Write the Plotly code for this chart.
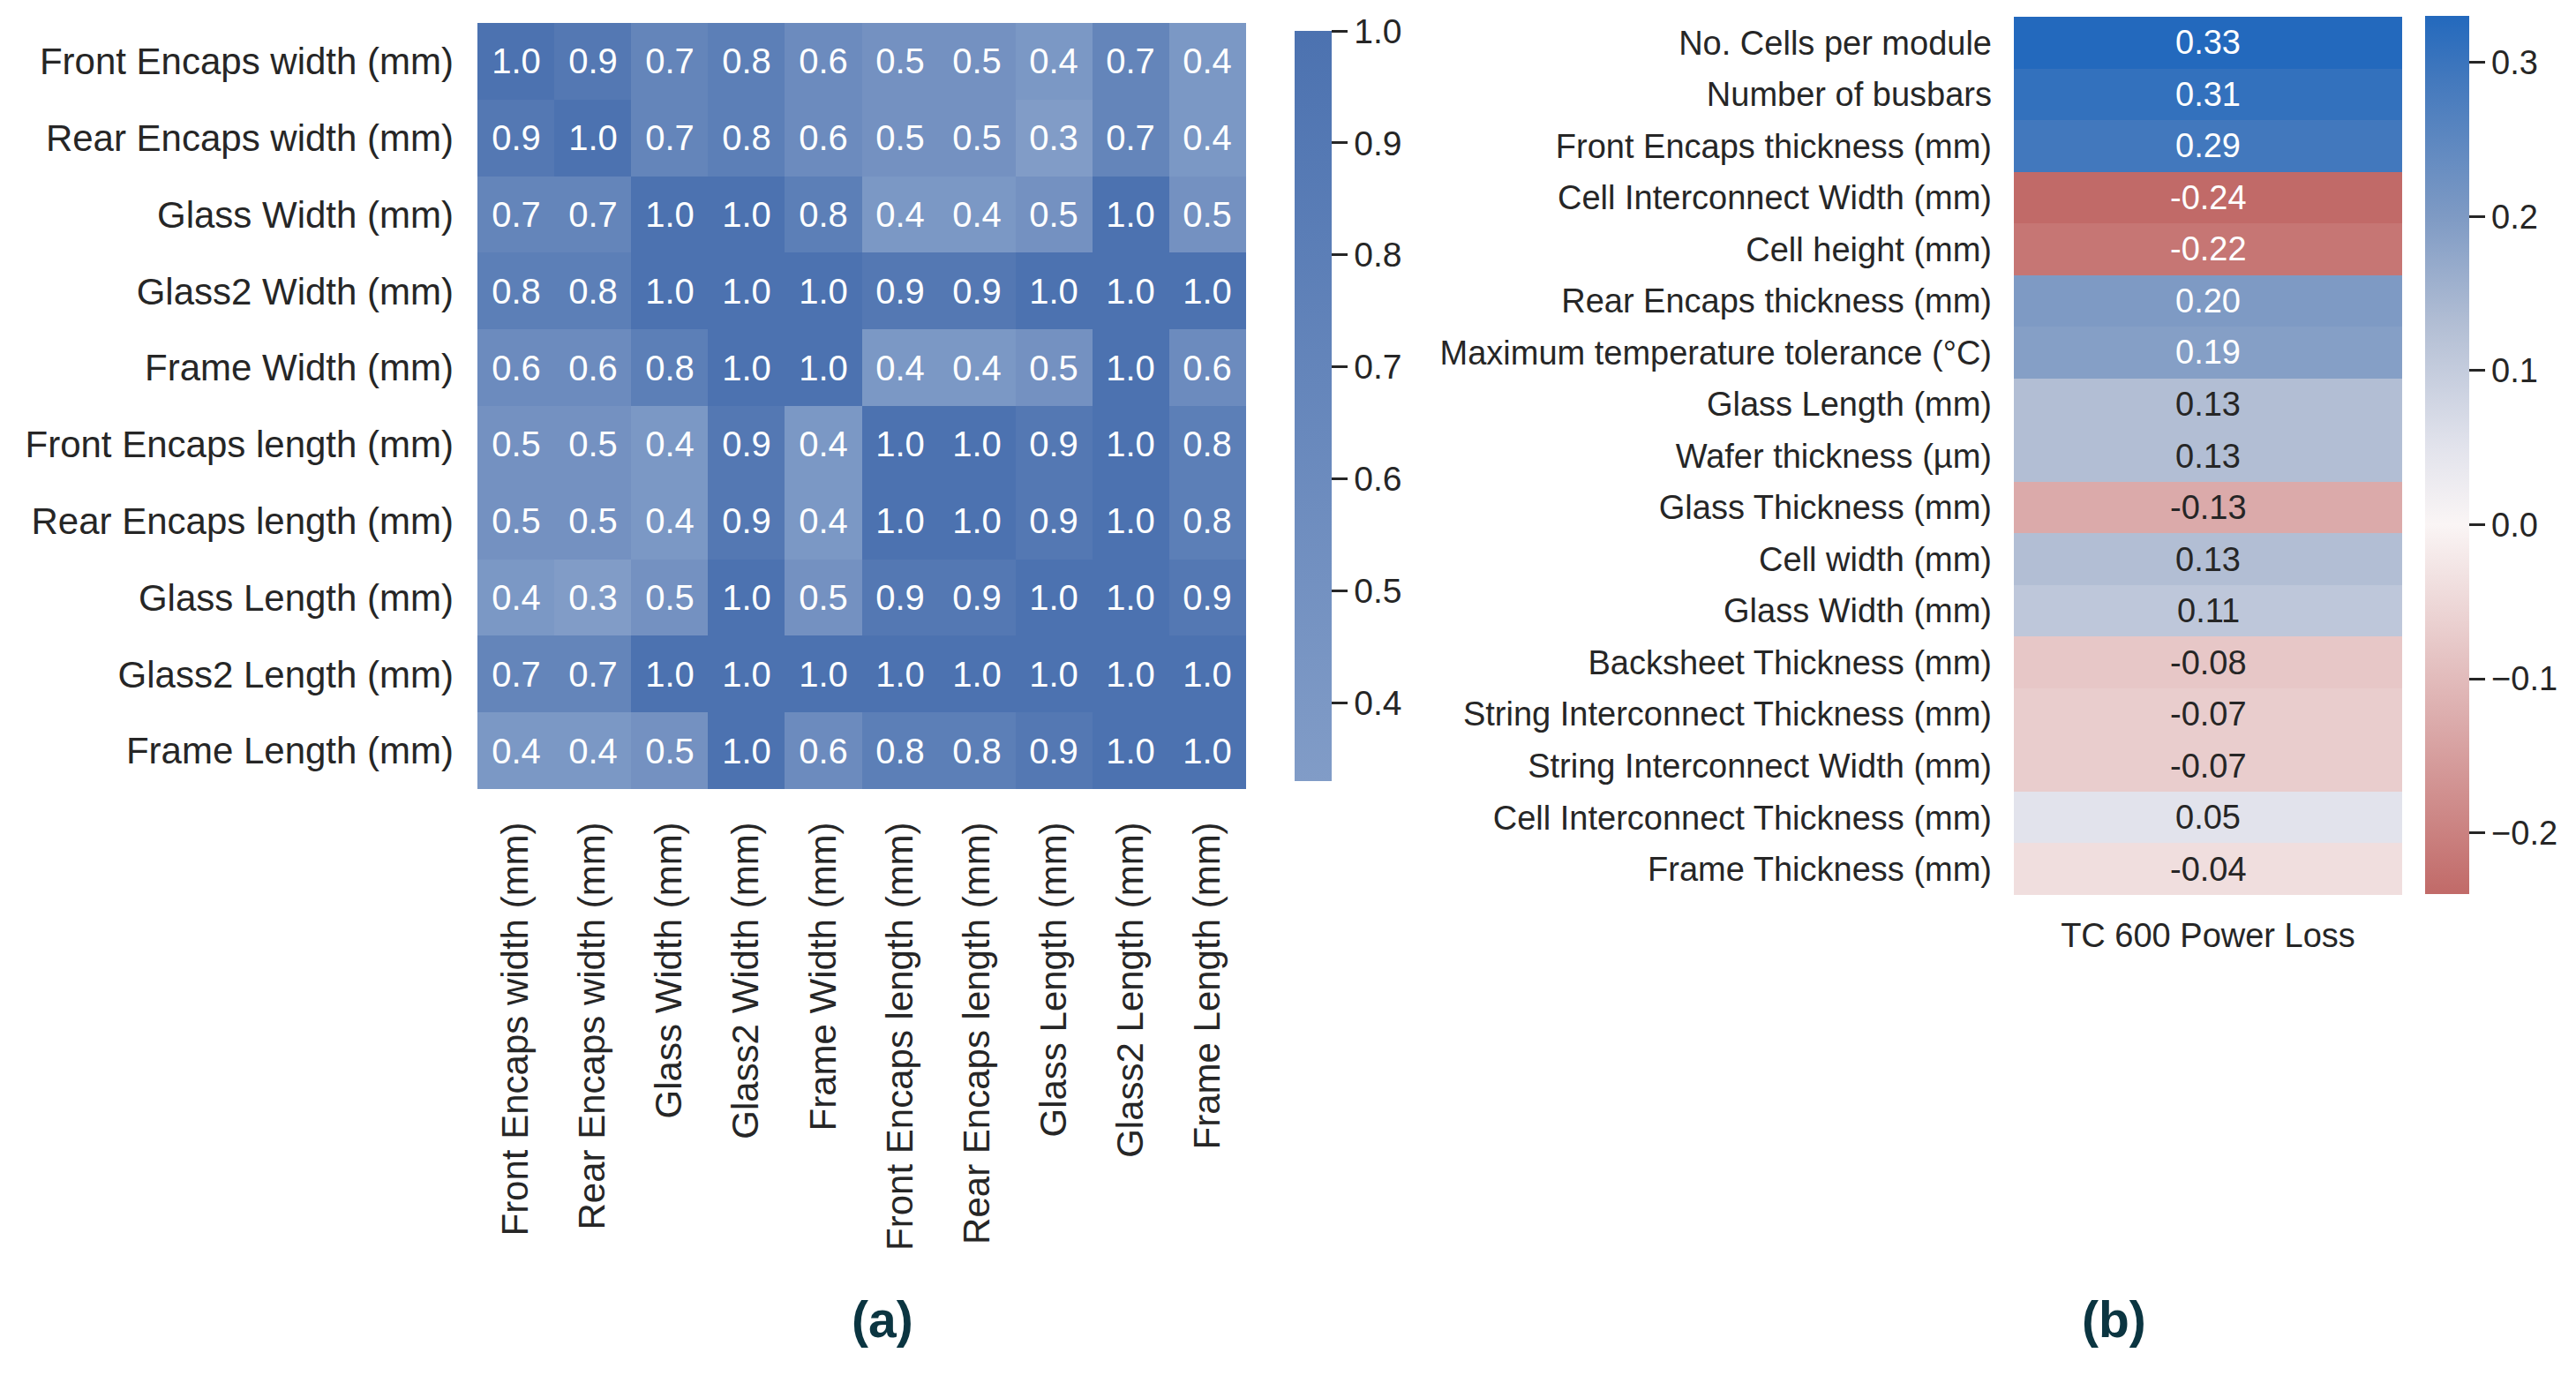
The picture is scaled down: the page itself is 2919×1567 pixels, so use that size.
import plotly.graph_objects as go

# correlation matrix between the dimension parameters (panel a)
dims = [
    "Front Encaps width (mm)",
    "Rear Encaps width (mm)",
    "Glass Width (mm)",
    "Glass2 Width (mm)",
    "Frame Width (mm)",
    "Front Encaps length (mm)",
    "Rear Encaps length (mm)",
    "Glass Length (mm)",
    "Glass2 Length (mm)",
    "Frame Length (mm)",
]
corr = [
    [1.0, 0.9, 0.7, 0.8, 0.6, 0.5, 0.5, 0.4, 0.7, 0.4],
    [0.9, 1.0, 0.7, 0.8, 0.6, 0.5, 0.5, 0.3, 0.7, 0.4],
    [0.7, 0.7, 1.0, 1.0, 0.8, 0.4, 0.4, 0.5, 1.0, 0.5],
    [0.8, 0.8, 1.0, 1.0, 1.0, 0.9, 0.9, 1.0, 1.0, 1.0],
    [0.6, 0.6, 0.8, 1.0, 1.0, 0.4, 0.4, 0.5, 1.0, 0.6],
    [0.5, 0.5, 0.4, 0.9, 0.4, 1.0, 1.0, 0.9, 1.0, 0.8],
    [0.5, 0.5, 0.4, 0.9, 0.4, 1.0, 1.0, 0.9, 1.0, 0.8],
    [0.4, 0.3, 0.5, 1.0, 0.5, 0.9, 0.9, 1.0, 1.0, 0.9],
    [0.7, 0.7, 1.0, 1.0, 1.0, 1.0, 1.0, 1.0, 1.0, 1.0],
    [0.4, 0.4, 0.5, 1.0, 0.6, 0.8, 0.8, 0.9, 1.0, 1.0],
]

# correlation with TC 600 power loss (panel b)
params = [
    "No. Cells per module",
    "Number of busbars",
    "Front Encaps thickness (mm)",
    "Cell Interconnect Width (mm)",
    "Cell height (mm)",
    "Rear Encaps thickness (mm)",
    "Maximum temperature tolerance (°C)",
    "Glass Length (mm)",
    "Wafer thickness (µm)",
    "Glass Thickness (mm)",
    "Cell width (mm)",
    "Glass Width (mm)",
    "Backsheet Thickness (mm)",
    "String Interconnect Thickness (mm)",
    "String Interconnect Width (mm)",
    "Cell Interconnect Thickness (mm)",
    "Frame Thickness (mm)",
]
tc_loss = [0.33, 0.31, 0.29, -0.24, -0.22, 0.20, 0.19, 0.13, 0.13, -0.13,
           0.13, 0.11, -0.08, -0.07, -0.07, 0.05, -0.04]
target = "TC 600 Power Loss"

# page body has an 8px margin, so the figure is a bit smaller than the window
PAGE_W, PAGE_H = 2919, 1567
OFF = 8
W, H = PAGE_W - 2 * OFF, PAGE_H - 2 * OFF
FONT = "Liberation Sans, Arial, sans-serif"
DARK = "#262626"

# colour scales
left_min, left_max = 0.33, 1.0
left_scale = [[0.0, "rgb(129,156,199)"], [1.0, "rgb(76,114,176)"]]

right_min, right_max = -0.24, 0.33
anchors = [
    (-0.24, "rgb(193,106,104)"),
    (-0.13, "rgb(219,170,170)"),
    (-0.04, "rgb(240,222,222)"),
    (0.0, "rgb(250,245,245)"),
    (0.05, "rgb(226,227,236)"),
    (0.13, "rgb(178,190,212)"),
    (0.20, "rgb(126,154,196)"),
    (0.29, "rgb(66,120,189)"),
    (0.33, "rgb(35,105,189)"),
]
right_scale = [[(v - right_min) / (right_max - right_min), c] for v, c in anchors]


# convert screenshot pixel positions to paper fractions
def px_x(p):
    return (p - OFF) / W


def px_y(p):
    return 1 - (p - OFF) / H


fig = go.Figure()

fig.add_trace(go.Heatmap(
    z=corr, x=dims, y=dims,
    zmin=left_min, zmax=left_max, colorscale=left_scale,
    texttemplate="%{z:.1f}",
    textfont=dict(family=FONT, size=40, color="white"),
    colorbar=dict(
        x=px_x(1467), xanchor="left", xpad=0, ypad=0,
        y=px_y(460), yanchor="middle", len=850 / H, lenmode="fraction",
        thickness=42, outlinewidth=0,
        tickvals=[0.4, 0.5, 0.6, 0.7, 0.8, 0.9, 1.0],
        ticktext=["0.4", "0.5", "0.6", "0.7", "0.8", "0.9", "1.0"],
        ticks="outside", ticklen=18, tickwidth=3, tickcolor=DARK,
        tickfont=dict(family=FONT, size=39, color=DARK),
    ),
    xaxis="x", yaxis="y",
))

fig.add_trace(go.Heatmap(
    z=[[v] for v in tc_loss], x=[target], y=params,
    zmin=right_min, zmax=right_max, colorscale=right_scale,
    colorbar=dict(
        x=px_x(2748), xanchor="left", xpad=0, ypad=0,
        y=px_y(516), yanchor="middle", len=995 / H, lenmode="fraction",
        thickness=50, outlinewidth=0,
        tickvals=[-0.2, -0.1, 0.0, 0.1, 0.2, 0.3],
        ticktext=["\u22120.2", "\u22120.1", "0.0", "0.1", "0.2", "0.3"],
        ticks="outside", ticklen=18, tickwidth=3, tickcolor=DARK,
        tickfont=dict(family=FONT, size=38, color=DARK),
    ),
    xaxis="x2", yaxis="y2",
))

# cell labels for panel b: light text on strong colours
for name, v in zip(params, tc_loss):
    fig.add_annotation(
        x=target, y=name, xref="x2", yref="y2", text=f"{v:.2f}",
        showarrow=False,
        font=dict(family=FONT, size=38, color="white" if abs(v) >= 0.19 else DARK),
    )

axis_font = dict(family=FONT, size=42, color=DARK)
fig.update_layout(
    width=W, height=H,
    margin=dict(l=0, r=0, t=0, b=0),
    paper_bgcolor="white", plot_bgcolor="white",
    xaxis=dict(domain=[px_x(541), px_x(1412)], tickangle=-90, ticks="",
               showgrid=False, zeroline=False, tickfont=axis_font,
               ticklabelstandoff=28, anchor="y"),
    yaxis=dict(domain=[px_y(894), px_y(26)], autorange="reversed", ticks="",
               showgrid=False, zeroline=False, tickfont=axis_font,
               ticklabelstandoff=26, anchor="x"),
    xaxis2=dict(domain=[px_x(2282), px_x(2722)], ticks="", showgrid=False,
                zeroline=False, tickfont=dict(family=FONT, size=38, color=DARK),
                ticklabelstandoff=20, anchor="y2"),
    yaxis2=dict(domain=[px_y(1014), px_y(19)], autorange="reversed", ticks="",
                showgrid=False, zeroline=False,
                tickfont=dict(family=FONT, size=38, color=DARK),
                ticklabelstandoff=24, anchor="x2"),
)

# panel letters
for letter, cx in [("(a)", 1000), ("(b)", 2395)]:
    fig.add_annotation(
        x=px_x(cx), y=px_y(1495), xref="paper", yref="paper",
        text=f"<b>{letter}</b>", showarrow=False,
        xanchor="center", yanchor="middle",
        font=dict(family=FONT, size=57, color="#0b3541"),
    )

fig.write_html("out.html")
